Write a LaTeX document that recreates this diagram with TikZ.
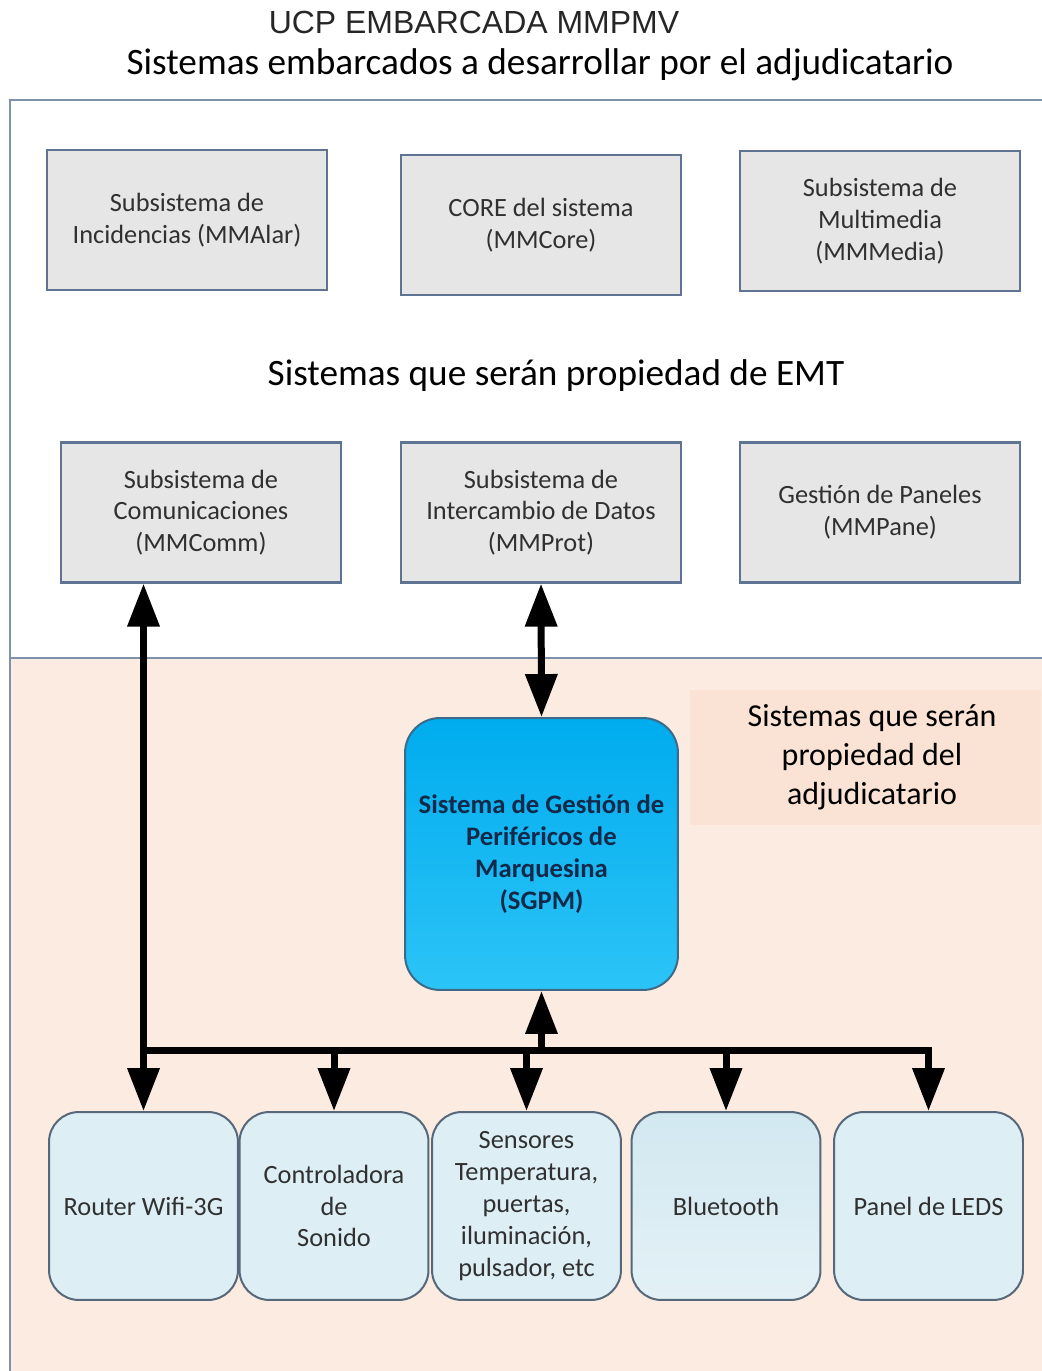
\documentclass[tikz,border=0pt]{standalone}
\usepackage{fontspec}
\setmainfont{Carlito}
\newfontfamily\arialfont{Liberation Sans}
\usetikzlibrary{arrows.meta}
\definecolor{frameblue}{HTML}{7E92AC}
\definecolor{boxgray}{HTML}{E6E6E6}
\definecolor{boxborder}{HTML}{5F7492}
\definecolor{peach}{HTML}{FCEBE0}
\definecolor{peachlabel}{HTML}{FAE3D4}
\definecolor{perfill}{HTML}{DDEEF5}
\definecolor{bttop}{HTML}{D2E8F0}
\definecolor{btbot}{HTML}{E3F1F6}
\definecolor{perborder}{HTML}{56687A}
\definecolor{txtgray}{HTML}{303030}
\definecolor{sgtop}{HTML}{00ACEE}
\definecolor{sgbot}{HTML}{2CC4F7}
\definecolor{sgborder}{HTML}{3C6A88}
\definecolor{sgtext}{HTML}{13294A}
\begin{document}
\begin{tikzpicture}[x=0.02cm,y=-0.02cm,
  graybox/.style={draw=boxborder, line width=0.045cm, fill=boxgray,
    minimum width=5.6cm, minimum height=2.8cm, inner sep=0pt, align=center,
    text=txtgray, font=\fontsize{15}{18.1}\selectfont},
  periph/.style={draw=perborder, line width=0.04cm, fill=perfill,
    rounded corners=0.6cm, minimum width=3.78cm, minimum height=3.76cm,
    inner sep=0pt, align=center, text=txtgray,
    font=\fontsize{15}{18.1}\selectfont},
  conn/.style={line width=0.14cm, line join=miter,
    -{Triangle[length=0.86cm,width=0.62cm]}},
  dconn/.style={line width=0.14cm,
    {Triangle[length=0.86cm,width=0.62cm]}-{Triangle[length=0.86cm,width=0.62cm]}},
  heading/.style={inner sep=0pt, anchor=base, text=black}]
\useasboundingbox (0,0) rectangle (1041,1371);
% backgrounds
\fill[peach] (10,658) rectangle (1045,1375);
\draw[frameblue, line width=0.04cm] (10,1375) -- (10,658);
\draw[frameblue, line width=0.05cm, fill=white] (10,100) rectangle (1045,658);
\fill[peachlabel] (690,690) rectangle (1041,825);
% titles
\node[heading, font=\arialfont\fontsize{18.2}{20}\selectfont, text=black!85] (title) at (474,34) {UCP EMBARCADA MMPMV};
\node[heading, font=\fontsize{21.2}{24}\selectfont] (sub1) at (540,75) {Sistemas embarcados a desarrollar por el adjudicatario};
\node[heading, font=\fontsize{21.2}{24}\selectfont] (sub2) at (556,385) {Sistemas que serán propiedad de EMT};
\node[inner sep=0pt, align=center, font=\fontsize{18.2}{22.1}\selectfont] (sub3) at (872,757) {Sistemas que serán\\propiedad del\\adjudicatario};
% top boxes
\node[graybox] (alar) at (187,220) {Subsistema de\\Incidencias (MMAlar)};
\node[graybox] (core) at (541,225) {CORE del sistema\\(MMCore)};
\node[graybox] (media) at (880,221) {Subsistema de\\Multimedia\\(MMMedia)};
\node[graybox] (comm) at (201,512.5) {Subsistema de\\Comunicaciones\\(MMComm)};
\node[graybox] (prot) at (541,512.5) {Subsistema de\\Intercambio de Datos\\(MMProt)};
\node[graybox] (pane) at (880,512.5) {Gestión de Paneles\\(MMPane)};
% SGPM
\node[draw=sgborder, line width=0.04cm, top color=sgtop, bottom color=sgbot,
  rounded corners=0.7cm, minimum width=5.46cm, minimum height=5.44cm,
  inner sep=0pt, align=center, text=sgtext,
  font=\bfseries\fontsize{15.2}{18.1}\selectfont] (sgpm) at (541.5,854)
  {Sistema de Gestión de\\Periféricos de\\Marquesina\\(SGPM)};
% peripherals
\node[periph] (router) at (143.5,1206) {Router Wifi-3G};
\node[periph] (ctrl) at (334,1206) {Controladora\\de\\Sonido};
\node[periph] (sens) at (526.5,1206) {Sensores\\Temperatura,\\puertas,\\iluminación,\\pulsador, etc};
\node[periph, top color=bttop, bottom color=btbot] (blue) at (726,1206) {Bluetooth};
\node[periph] (panel) at (928.5,1206) {Panel de LEDS};
% connectors
\coordinate (bus) at (0,1050);
\draw[dconn] (router.north) -- (router.north |- comm.south);
\draw[dconn] (prot.south) -- (sgpm.north);
\draw[conn] (router.north |- bus) -- (panel.north |- bus) -- (panel.north);
\draw[conn] (ctrl.north |- bus) -- (ctrl.north);
\draw[conn] (sens.north |- bus) -- (sens.north);
\draw[conn] (blue.north |- bus) -- (blue.north);
\draw[conn] (sgpm.south |- bus) -- (sgpm.south);
\end{tikzpicture}
\end{document}
